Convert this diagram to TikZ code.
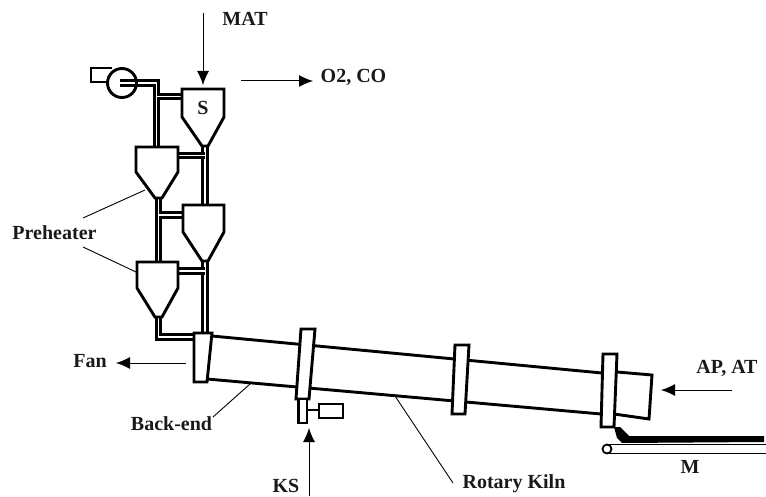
\documentclass[tikz,border=0pt]{standalone}
\usepackage{fontspec}
\setmainfont{Liberation Serif}
\usetikzlibrary{arrows.meta}
\tikzset{
  unit/.style={draw=black,line width=2.9pt,line join=miter,fill=white},
  pipe/.style={draw=black,line width=2.8pt,double=white,double distance=1.6pt,line join=miter},
  flow/.style={draw=black,line width=1pt,-{Latex[length=14pt,width=12pt]}},
  leader/.style={draw=black,line width=0.9pt},
  lab/.style={font=\bfseries\fontsize{20}{22}\selectfont,inner sep=0pt,text=black!90}
}
\begin{document}
\begin{tikzpicture}[x=1pt,y=-1pt]
\useasboundingbox (0,0) rectangle (766,497);
% free ends
\coordinate (matA) at (203,13); \coordinate (matB) at (203,85);
\coordinate (oA) at (241,81); \coordinate (oB) at (313,81);
\coordinate (fA) at (186,363); \coordinate (fB) at (116,363);
\coordinate (kA) at (309,496); \coordinate (kB) at (309,428);
\coordinate (aA) at (732,390); \coordinate (aB) at (661,390);
% pipes
\draw[pipe] (120,83) -- (156.5,83) -- (156.5,148);
\draw[pipe] (156.5,96.5) -- (183,96.5);
\draw[pipe] (205,144) -- (205,206);
\draw[pipe] (177,155.5) -- (205,155.5);
\draw[pipe] (158.5,196) -- (158.5,263);
\draw[pipe] (158.5,215) -- (184,215);
\draw[pipe] (205,259) -- (205,334);
\draw[pipe] (177,271) -- (205,271);
\draw[pipe] (158.5,315) -- (158.5,337) -- (195,337);
% fan
\draw[unit] (108,82) -- (91,82) -- (91,68) -- (112,68);
\node[draw=black,line width=2.9pt,circle,minimum size=29pt,inner sep=0pt] (fanwheel) at (122,83) {};
\draw[pipe] (120,83) -- (135,83);
% cyclones
\draw[unit] (182,89) -- (224,89) -- (224,117) -- (208,146) -- (202,146) -- (182,117) -- cycle;
\draw[unit] (136,147) -- (178,147) -- (178,172) -- (162,198) -- (155,198) -- (136,172) -- cycle;
\draw[unit] (183,205) -- (224,205) -- (224,232) -- (208,261) -- (202,261) -- (183,232) -- cycle;
\draw[unit] (137,262) -- (178,262) -- (178,288) -- (162,317) -- (155,317) -- (137,288) -- cycle;
% kiln
\draw[unit,fill=none] (212,336) -- (602,373);
\draw[unit,fill=none] (207,379) -- (601,414);
\draw[unit] (617,372) -- (652,375) -- (649,419) -- (614,414);
% rings
\draw[unit] (194,333) -- (212,333) -- (207,382) -- (194,382) -- cycle;
\draw[unit] (301,329) -- (315,329) -- (309,399) -- (296,399) -- cycle;
\draw[unit] (455,345) -- (469,345) -- (465,414) -- (452,414) -- cycle;
\draw[unit] (603,354) -- (617,354) -- (614,427) -- (601,427) -- cycle;
% drive
\draw[unit] (298.5,399) rectangle (307,423);
\draw[unit] (319,404) rectangle (343,418);
\draw[unit] (307,410) -- (319,410);
% material & conveyor
\fill[black] (614,427) -- (620,427) -- (629,436) -- (764,436) -- (764,442) -- (622,443) -- (617,438) -- cycle;
\draw[draw=black,line width=1.3pt] (607,444.5) -- (766,444.5);
\draw[draw=black,line width=1.3pt] (607,453.5) -- (766,453.5);
\node[draw=black,line width=1.8pt,circle,minimum size=9pt,inner sep=0pt,fill=white] (roll) at (607,449) {};
% arrows
\draw[flow] (matA) -- (matB);
\draw[flow] (oA) -- (oB);
\draw[flow] (fA) -- (fB);
\draw[flow] (kA) -- (kB);
\draw[flow] (aA) -- (aB);
% leaders
\coordinate (l1) at (145,190); \coordinate (l1e) at (83,218);
\coordinate (l2) at (136,272); \coordinate (l2e) at (83,247);
\coordinate (l3) at (250,384); \coordinate (l3e) at (213,417);
\coordinate (l4) at (395,396); \coordinate (l4e) at (453,483);
\draw[leader] (l1) -- (l1e);
\draw[leader] (l2) -- (l2e);
\draw[leader] (l3) -- (l3e);
\draw[leader] (l4) -- (l4e);
% labels
\node[lab] (mat) at (245,19) {MAT};
\node[lab] (o2) at (353.5,77) {O2, CO};
\node[lab] (s) at (203,108) {S};
\node[lab] (pre) at (54.5,233) {Preheater};
\node[lab] (fan) at (90,361) {Fan};
\node[lab] (back) at (171.5,424) {Back-end};
\node[lab] (ks) at (286,486) {KS};
\node[lab] (rk) at (514,484) {Rotary Kiln};
\node[lab] (m) at (690,467) {M};
\node[lab] (ap) at (727,368) {AP, AT};
\end{tikzpicture}
\end{document}
